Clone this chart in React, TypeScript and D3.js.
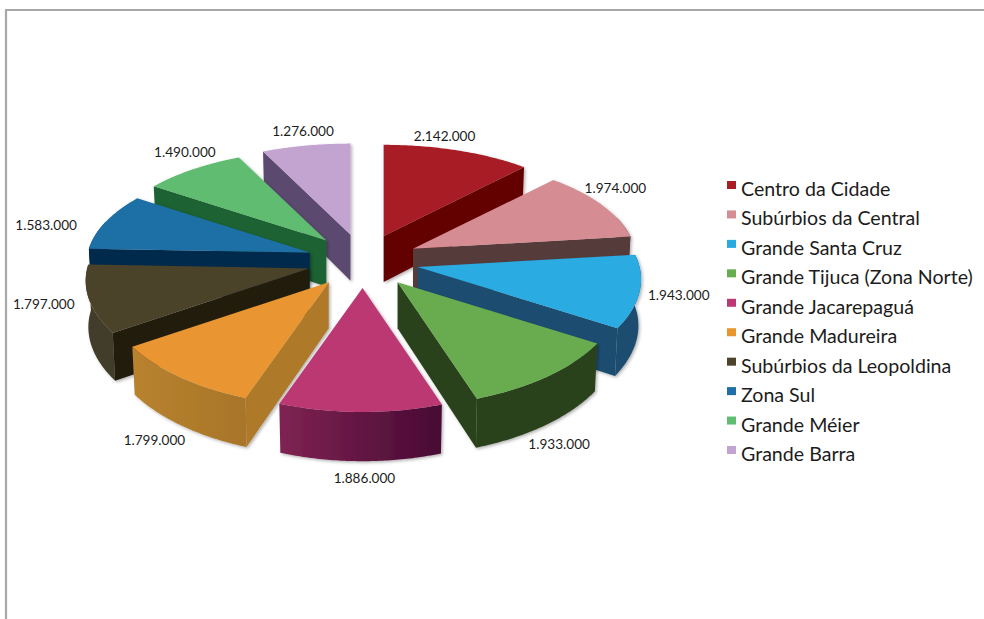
import React from "react";
import * as d3 from "d3";

const categories = ["Centro da Cidade", "Subúrbios da Central", "Grande Santa Cruz", "Grande Tijuca (Zona Norte)", "Grande Jacarepaguá", "Grande Madureira", "Subúrbios da Leopoldina", "Zona Sul", "Grande Méier", "Grande Barra"];
const values = [2142000, 1974000, 1943000, 1933000, 1886000, 1799000, 1797000, 1583000, 1490000, 1276000];
const topColors = ["#a81e25", "#d58c92", "#29abe2", "#69ac50", "#bb3873", "#e89530", "#4b432c", "#1f6fa6", "#5fbc70", "#c3a3cf"];
const radialColors = ["#640504", "#573a3b", "#1c4e70", "#2b431b", "#5a1040", "#ae7a2c", "#231c0b", "#062a4c", "#1f6232", "#5c4a70"];
const wallFrom = ["#640504", "#573a3b", "#1c4e70", "#2b431b", "#7f2352", "#b8822e", "#423d2a", "#062a4c", "#1f6232", "#5c4a70"];
const wallTo = ["#640504", "#573a3b", "#1c4e70", "#2b431b", "#470a33", "#a8752a", "#423d2a", "#062a4c", "#1f6232", "#5c4a70"];
const labelOffsets: [number, number][] = [[-13, -14], [14, -17], [39, 4], [11, 68], [4, 66], [-25, 63], [-45, 5], [-60, 4], [-8, -17], [-3, -15]];

const CX = 363, CY = 261, EX = 56, EY = 27;
const RX = 222, RY = 105, PERSP_X = 0.115, PERSP_Y = 0.153, DEPTH = 46;

type Pt = [number, number];
const pies = d3.pie<number>().sort(null)(values);
const lineGen = d3.line<Pt>();
const fmt = (v: number) => d3.format(",")(v).replace(/,/g, ".");

const apex = (mid: number): Pt => [CX + EX * Math.sin(mid), CY - EY * Math.cos(mid)];
// h: 0 top face, 1 bottom face
const rim = (a: number, mid: number, h: number): Pt => {
  const c = Math.cos(a);
  const [ax, ay] = apex(mid);
  return [
    ax + (RX * Math.sin(a) * (1 - 0.012 * h)) / (1 + PERSP_X * c),
    ay - (RY * c) / (1 + PERSP_Y * c) + h * DEPTH * (1 - 0.07 * c),
  ];
};
const down = ([x, y]: Pt, h: number): Pt => [x, y + h * DEPTH];
const area = (p: Pt[]) => d3.polygonArea(p);

function Slice({ i }: { i: number }) {
  const d = pies[i];
  const mid = (d.startAngle + d.endAngle) / 2;
  const ap = apex(mid);
  const ts = d3.range(0, 61).map((k) => d.startAngle + ((d.endAngle - d.startAngle) * k) / 60);
  const topArc = ts.map((a) => rim(a, mid, 0));
  const top = [ap, ...topArc];
  const wall = (a: number): Pt[] => [ap, rim(a, mid, 0), rim(a, mid, 1), down(ap, 1)];
  const startWall = wall(d.startAngle);
  const endWall = wall(d.endAngle);
  const frontArc = ts.filter((a) => Math.cos(a) < 0.32);
  const outer: Pt[] = frontArc.length > 1
    ? [...frontArc.map((a) => rim(a, mid, 0)), ...frontArc.slice().reverse().map((a) => rim(a, mid, 1))]
    : [];
  const ext = d3.extent(outer, (p) => p[0]) as [number, number];
  const startVisible = area(startWall) > 0;
  const endVisible = area(endWall) < 0;
  const path = (p: Pt[]) => (lineGen(p) as string) + "Z";
  return (
    <g filter="url(#soft)">
      {outer.length > 0 && (
        <linearGradient id={`w${i}`} gradientUnits="userSpaceOnUse" x1={ext[0]} x2={ext[1]} y1={0} y2={0}>
          <stop offset="0" stopColor={wallFrom[i]} />
          <stop offset="1" stopColor={wallTo[i]} />
        </linearGradient>
      )}
      {outer.length > 0 && <path d={path(outer)} fill={`url(#w${i})`} />}
      {startVisible && <path d={path(startWall)} fill={radialColors[i]} />}
      {endVisible && <path d={path(endWall)} fill={radialColors[i]} />}
      <path d={path(top)} fill={topColors[i]} />
    </g>
  );
}

const order = d3.range(values.length).sort((a, b) => {
  const m = (k: number) => (pies[k].startAngle + pies[k].endAngle) / 2;
  return Math.cos(m(b)) - Math.cos(m(a));
});

const legendY = d3.scaleLinear().domain([0, 9]).range([196, 461]);

export default function App() {
  return (
    <svg width={984} height={619} style={{ position: "absolute", left: 0, top: 0, background: "#fff" }}>
      <defs>
        <filter id="soft" x="-15%" y="-15%" width="130%" height="130%">
          <feDropShadow dx="1.5" dy="1.5" stdDeviation="1.5" floodColor="#000" floodOpacity="0.3" />
        </filter>
      </defs>
      <path d="M6,619V10H984" fill="none" stroke="#a8a8a8" strokeWidth={2.2} />
      {order.map((i) => <Slice key={i} i={i} />)}
      <g fontFamily="Lato, 'Open Sans', sans-serif" fontSize={13.6} fill="#1c1c1c" textAnchor="middle">
        {values.map((v, i) => {
          const mid = (pies[i].startAngle + pies[i].endAngle) / 2;
          const [x, y] = rim(mid, mid, 0);
          return <text key={i} x={x + labelOffsets[i][0]} y={y + labelOffsets[i][1] + 5}>{fmt(v)}</text>;
        })}
      </g>
      <g fontFamily="Lato, 'Open Sans', sans-serif" fontSize={19.6} fill="#1c1c1c">
        {categories.map((c, i) => (
          <g key={c}>
            <rect x={727} y={legendY(i) - 15} width={9} height={8} fill={topColors[i]} />
            <text x={741} y={legendY(i)}>{c}</text>
          </g>
        ))}
      </g>
    </svg>
  );
}
